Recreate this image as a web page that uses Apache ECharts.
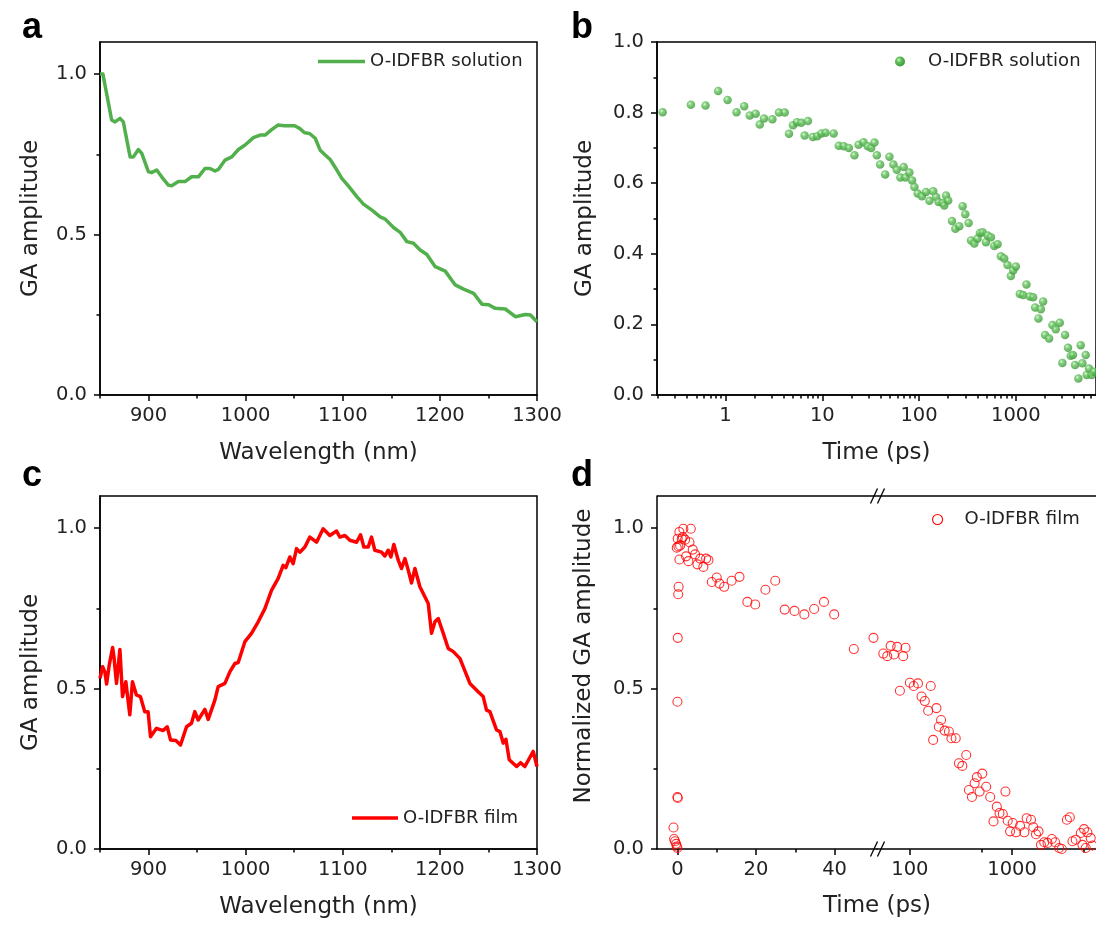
<!DOCTYPE html>
<html><head><meta charset="utf-8">
<script src="https://cdn.jsdelivr.net/npm/echarts@6/dist/echarts.min.js"></script>
<style>html,body{margin:0;padding:0;background:#fff}#c{width:1096px;height:927px}</style>
</head><body><div id="c"></div>
<script>
// ---------- data ----------
const wavelengthSolution = [850,853,862,865.5,870.6,874,881,884.4,889.5,893,899.8,903,908.4,913.5,920.4,923.8,930.7,937.5,944.4,951.3,958.2,963.3,968.5,971.9,978.8,985.7,992.5,999.4,1008,1014.9,1020,1026.4,1033.2,1040,1050.4,1055.5,1060.7,1065.8,1071.6,1076.7,1081.9,1087,1093.9,1099,1105.9,1114.5,1121.3,1130,1138.5,1143.7,1152.2,1159.1,1166,1172.8,1179.7,1186.6,1195.2,1205.5,1215.8,1224.4,1234.7,1243.3,1250.2,1257,1267.4,1277.7,1288,1293.2,1300];
const ampSolution = [1.0,1.0,0.857,0.851,0.862,0.851,0.742,0.742,0.765,0.753,0.696,0.693,0.701,0.680,0.654,0.652,0.665,0.665,0.680,0.680,0.706,0.706,0.698,0.703,0.732,0.742,0.765,0.779,0.802,0.810,0.810,0.826,0.841,0.839,0.839,0.831,0.817,0.815,0.800,0.763,0.748,0.734,0.701,0.675,0.651,0.618,0.595,0.576,0.555,0.548,0.522,0.507,0.478,0.473,0.452,0.438,0.400,0.386,0.343,0.330,0.317,0.283,0.281,0.270,0.268,0.244,0.251,0.249,0.228];

const wavelengthFilm = [850,852.7,855,856.8,859.5,863,864.3,867,870.5,873.2,876.6,880.7,883.4,887.5,891.6,896.1,899.5,902,908.2,915,919.2,922.6,928.1,932.9,939.1,944.2,947.6,951.1,958,961.4,968.3,971.7,978.6,983.7,988.9,992.3,999.2,1006,1012.9,1019.8,1026.6,1033.5,1038.6,1041.4,1045.5,1048.9,1052.4,1055.8,1061,1066.1,1073,1079.8,1086.7,1093.6,1097,1102.2,1107.3,1114.2,1118.3,1121.7,1126.2,1129.6,1133,1139.9,1143.3,1146.8,1149.5,1152.6,1157.1,1160.5,1164,1167.4,1170.8,1174.3,1179.4,1188,1191.4,1194.9,1198.3,1203.5,1208.6,1213.8,1220.6,1230.9,1239.4,1244.6,1248,1251.5,1258.3,1261.8,1265.2,1268,1271.4,1279,1283.1,1287.5,1296.1,1300];
const ampFilm = [0.532,0.568,0.552,0.514,0.573,0.628,0.600,0.516,0.622,0.475,0.521,0.418,0.521,0.480,0.475,0.428,0.428,0.350,0.376,0.369,0.381,0.340,0.338,0.324,0.381,0.392,0.428,0.402,0.435,0.404,0.464,0.506,0.516,0.552,0.578,0.581,0.646,0.672,0.708,0.749,0.806,0.843,0.884,0.877,0.910,0.889,0.936,0.925,0.941,0.972,0.956,0.998,0.977,0.991,0.972,0.977,0.962,0.956,0.979,0.941,0.941,0.972,0.931,0.925,0.913,0.931,0.910,0.949,0.900,0.874,0.905,0.869,0.829,0.874,0.817,0.765,0.672,0.708,0.718,0.672,0.625,0.615,0.594,0.516,0.490,0.475,0.433,0.428,0.371,0.366,0.330,0.342,0.278,0.257,0.269,0.257,0.304,0.257];

const timeSolution = [0.224,0.439,0.622,0.839,1.05,1.30,1.56,1.78,2.05,2.26,2.50,3.05,3.57,4.09,4.53,4.98,5.48,6.07,6.57,7.11,8.00,8.87,9.77,10.8,13.1,14.8,16.7,18.8,21.5,23.7,26.7,29.5,32.0,34.6,36.6,39.6,44.6,49.4,54.3,58.8,64.1,69.4,72.2,79.4,84.7,89.5,96.8,107,118,128,140,150,159,175,182,190,200,219,237,260,282,300,325,344,372,402,425,453,491,511,552,598,647,700,758,820,888,938,1000,1099,1189,1287,1393,1507,1581,1711,1811,1913,2006,2205,2386,2583,2842,3025,3222,3459,3687,3896,4089,4422,4679,4865,5267,5398,5702,6077,6412];
const kineticSolution = [0.801,0.822,0.820,0.861,0.836,0.801,0.818,0.792,0.797,0.766,0.783,0.781,0.800,0.800,0.740,0.764,0.773,0.771,0.735,0.776,0.731,0.733,0.741,0.743,0.741,0.706,0.705,0.700,0.679,0.709,0.716,0.705,0.700,0.715,0.679,0.653,0.625,0.675,0.653,0.638,0.616,0.646,0.616,0.630,0.608,0.589,0.571,0.563,0.575,0.550,0.577,0.561,0.547,0.544,0.537,0.565,0.551,0.493,0.471,0.478,0.535,0.512,0.487,0.438,0.429,0.443,0.459,0.461,0.433,0.452,0.447,0.422,0.427,0.393,0.387,0.368,0.337,0.353,0.364,0.286,0.283,0.313,0.279,0.277,0.248,0.217,0.243,0.265,0.170,0.160,0.198,0.186,0.205,0.091,0.170,0.134,0.111,0.113,0.085,0.047,0.141,0.090,0.113,0.057,0.075,0.057,0.066];

const timeFilm = [-1.0,-0.85,-0.6,-0.34,-0.17,0,0,0.08,0,0.08,0.2,0.3,0.5,-0.17,0.25,0.68,0.08,0.5,1.1,1.5,1.36,1.95,2.2,2.8,3.06,3.4,3.9,4.5,5.1,5.8,6.6,7.3,7.9,8.75,10.0,10.7,11.9,13.8,15.8,17.8,19.8,22.4,24.9,27.3,29.8,32.3,34.8,37.3,39.9,44.9,49.9,
  55.0,60.1,64.9,69.9,75.2,79.9,86.1,90.8,100,109,120,130,140,151,160,169,182,192,202,219,241,255,281,302,326,356,378,405,430,452,481,511,558,611,658,709,753,811,861,906,956,1014,1094,1197,1318,1388,1531,1611,1713,1815,1916,2063,2222,2450,2640,2886,3066,3433,3672,3894,4200,4695,4872,5056,5250,5450,5875,6100];
const kineticFilm = [0.067,0.031,0.024,0.016,0.008,0.003,0.162,0.159,0.459,0.658,0.794,0.817,0.902,0.939,0.943,0.946,0.967,0.988,0.967,0.998,0.972,0.964,0.912,0.897,0.956,0.998,0.933,0.918,0.887,0.905,0.879,0.905,0.900,0.832,0.846,0.827,0.817,0.836,0.848,0.770,0.762,0.808,0.836,0.746,0.742,0.731,0.748,0.770,0.731,0.623,0.658,
  0.609,0.601,0.633,0.606,0.630,0.493,0.601,0.627,0.518,0.508,0.516,0.475,0.461,0.431,0.508,0.340,0.439,0.381,0.402,0.369,0.366,0.345,0.345,0.267,0.259,0.293,0.184,0.162,0.205,0.224,0.179,0.235,0.194,0.162,0.086,0.132,0.112,0.109,0.179,0.088,0.055,0.081,0.052,0.072,0.052,0.096,0.091,0.068,0.046,0.055,0.013,0.021,0.019,0.031,0.021,0.003,0.000,0.091,0.099,0.024,0.029,0.050,0.013,0.062,0.003,0.052,0.034,0.011];

// tick labels
const wavelengthTicks = [900,1000,1100,1200,1300];
const wavelengthMinorTicks = [850,950,1050,1150,1250];
const ampTicks = [0,0.5,1.0];
const ampMinorTicks = [0.25,0.75];
const kinTicks = [0,0.2,0.4,0.6,0.8,1.0];
const kinMinorTicks = [0.1,0.3,0.5,0.7,0.9];
const logTimeTicks = [1,10,100,1000];
const linTimeTicks = [0,20,40];
const linTimeMinorTicks = [10,30];
const brokenLogTicks = [100,1000];
const brokenLogMinorTicks = [500,5000];
const timeBreak = 50.8;

const legendSolution = 'O-IDFBR solution';
const legendFilm = 'O-IDFBR film';

// ---------- styles ----------
const FONT = "'DejaVu Sans', 'Liberation Sans', Arial, sans-serif";
const LETTER_FONT = "'Liberation Sans', Arial, sans-serif";
const GREEN = '#52b04c';
const RED = '#ff0000';
const bMin = 0.196, bMax = 6730;
const dLogMin = 47.7, dLogMax = 6620;

const logMinor = [];
[0.1,1,10,100,1000].forEach(d => { for (let m = 2; m <= 9; m++) { const v = +(m*d).toPrecision(3); if (v > bMin && v < bMax) logMinor.push(v); } });

const gridDefs = [
  {left:100, top:42, width:437, height:353, show:true, borderColor:'#000', borderWidth:1.5},
  {left:657, top:42, width:441, height:353, show:true, borderColor:'#000', borderWidth:1.5},
  {left:100, top:496, width:437, height:353, show:true, borderColor:'#000', borderWidth:1.5},
  {left:657, top:496, width:220, height:353, show:false},
  {left:877, top:496, width:221, height:353, show:false}
];

function axis(o) {
  const base = {
    gridIndex: o.grid, type: o.type || 'value', min: o.min, max: o.max,
    position: o.position,
    axisLine: {show: o.line !== false, onZero:false, lineStyle:{color:'#000', width:1.5}},
    axisTick: {show:true, inside:false, length: o.tickLen || 6, lineStyle:{color:'#000', width:1.5}, customValues: o.ticks},
    axisLabel: {show: !!o.labels, customValues: o.labels, fontSize:19.5, color:'#222', fontFamily:FONT, margin: o.margin || 11,
                formatter: o.fmt},
    splitLine:{show:false},
    name: o.name || '', nameLocation:'middle', nameGap: o.nameGap || 0,
    nameTextStyle:{fontSize:23, color:'#222', fontFamily:FONT}
  };
  if (base.type === 'log') base.logBase = 10;
  if (o.hidden) base.show = false;
  return base;
}
const fmt1 = v => Number(v).toFixed(1);
const fmtInt = v => String(Math.round(v));

const xAxes = [
  axis({grid:0, min:850, max:1300, position:'bottom', ticks:wavelengthTicks, labels:wavelengthTicks, name:'Wavelength (nm)', nameGap:47, fmt:fmtInt}),
  axis({grid:0, min:850, max:1300, position:'bottom', ticks:wavelengthMinorTicks, line:false, tickLen:3.5}),
  axis({grid:1, type:'log', min:bMin, max:bMax, position:'bottom', ticks:logTimeTicks, labels:logTimeTicks, name:'Time (ps)', nameGap:47, fmt:fmtInt}),
  axis({grid:1, type:'log', min:bMin, max:bMax, position:'bottom', ticks:logMinor, line:false, tickLen:3.5}),
  axis({grid:2, min:850, max:1300, position:'bottom', ticks:wavelengthTicks, labels:wavelengthTicks, name:'Wavelength (nm)', nameGap:47, fmt:fmtInt}),
  axis({grid:2, min:850, max:1300, position:'bottom', ticks:wavelengthMinorTicks, line:false, tickLen:3.5}),
  axis({grid:3, min:-5.2, max:timeBreak, position:'bottom', ticks:linTimeTicks, labels:linTimeTicks, fmt:fmtInt}),
  axis({grid:3, min:-5.2, max:timeBreak, position:'bottom', ticks:linTimeMinorTicks, line:false, tickLen:3.5}),
  axis({grid:4, type:'log', min:dLogMin, max:dLogMax, position:'bottom', ticks:brokenLogTicks, labels:brokenLogTicks, fmt:fmtInt}),
  axis({grid:4, type:'log', min:dLogMin, max:dLogMax, position:'bottom', ticks:brokenLogMinorTicks, line:false, tickLen:3.5})
];
const yAxes = [
  axis({grid:0, min:0, max:1.1, position:'left', ticks:ampTicks, labels:ampTicks, fmt:fmt1, margin:13, name:'GA amplitude', nameGap:57}),
  axis({grid:0, min:0, max:1.1, position:'left', ticks:ampMinorTicks, line:false, tickLen:3.5}),
  axis({grid:1, min:0, max:1.0, position:'left', ticks:kinTicks, labels:kinTicks, fmt:fmt1, margin:13, name:'GA amplitude', nameGap:60}),
  axis({grid:1, min:0, max:1.0, position:'left', ticks:kinMinorTicks, line:false, tickLen:3.5}),
  axis({grid:2, min:0, max:1.1, position:'left', ticks:ampTicks, labels:ampTicks, fmt:fmt1, margin:13, name:'GA amplitude', nameGap:57}),
  axis({grid:2, min:0, max:1.1, position:'left', ticks:ampMinorTicks, line:false, tickLen:3.5}),
  axis({grid:3, min:0, max:1.1, position:'left', ticks:ampTicks, labels:ampTicks, fmt:fmt1, margin:13}),
  axis({grid:3, min:0, max:1.1, position:'left', ticks:ampMinorTicks, line:false, tickLen:3.5}),
  axis({grid:4, min:0, max:1.1, position:'left', hidden:true})
];

const sphere = {type:'radial', x:0.38, y:0.35, r:0.7, colorStops:[
  {offset:0, color:'#d4f5cf'}, {offset:0.35, color:'#62c25c'}, {offset:1, color:'#3a9436'}]};

const filmLin = [], filmLog = [];
timeFilm.forEach((t, i) => { (t <= timeBreak ? filmLin : filmLog).push([t, kineticFilm[i]]); });

const series = [
  {name:legendSolution, type:'line', xAxisIndex:0, yAxisIndex:0, symbol:'none', showSymbol:false,
   data: wavelengthSolution.map((w,i)=>[w, ampSolution[i]]),
   lineStyle:{color:GREEN, width:3.5, join:'round'}, itemStyle:{color:GREEN}},
  {name:legendSolution, type:'scatter', xAxisIndex:2, yAxisIndex:2, symbol:'circle', symbolSize:8.5,
   data: timeSolution.map((t,i)=>[t, kineticSolution[i]]),
   itemStyle:{color:sphere}},
  {name:legendFilm, type:'line', xAxisIndex:4, yAxisIndex:4, symbol:'none', showSymbol:false,
   data: wavelengthFilm.map((w,i)=>[w, ampFilm[i]]),
   lineStyle:{color:RED, width:3.5, join:'round'}, itemStyle:{color:RED}},
  {name:legendFilm, type:'scatter', xAxisIndex:6, yAxisIndex:6, symbol:'circle', symbolSize:9, clip:false,
   data: filmLin, itemStyle:{color:'rgba(255,255,255,0)', borderColor:RED, borderWidth:1.1}},
  {name:legendFilm, type:'scatter', xAxisIndex:8, yAxisIndex:8, symbol:'circle', symbolSize:9, clip:false,
   data: filmLog, itemStyle:{color:'rgba(255,255,255,0)', borderColor:RED, borderWidth:1.1}}
];

const legendText = {fontSize:18, color:'#222', fontFamily:FONT};
const legends = [
  {data:[{name:legendSolution, icon:'rect', itemStyle:{color:GREEN, borderWidth:0}}], left:318, top:52.5, itemWidth:47, itemHeight:3.5, padding:0, selectedMode:false, textStyle:legendText},
  {data:[{name:legendSolution, icon:'circle', itemStyle:{color:sphere, borderWidth:0}}], left:895, top:52.5, itemWidth:10, itemHeight:10, padding:0, selectedMode:false,
   textStyle:Object.assign({padding:[0,0,0,18]}, legendText)},
  {data:[{name:legendFilm, icon:'rect', itemStyle:{color:RED, borderWidth:0}}], left:352, top:809, itemWidth:46, itemHeight:3.5, padding:0, selectedMode:false, textStyle:legendText},
  {data:[{name:legendFilm, icon:'circle', itemStyle:{color:'#fff', borderColor:RED, borderWidth:1.1}}], left:932, top:510.5, itemWidth:10, itemHeight:10, padding:0, selectedMode:false,
   textStyle:Object.assign({padding:[0,0,0,17]}, legendText)}
];

function letter(t, x, y) {
  return {type:'text', x:x, y:y, z:100, style:{text:t, fontSize:36, fontWeight:'bold', fontFamily:LETTER_FONT, fill:'#000', align:'left', verticalAlign:'middle'}};
}
function breakMark(xc, yc) {
  return {type:'group', z:100, children:[
    {type:'polygon', shape:{points:[[xc-6.5,yc+7.5],[xc+0.5,yc-7.5],[xc+6.5,yc-7.5],[xc-0.5,yc+7.5]]}, style:{fill:'#fff'}},
    {type:'line', shape:{x1:xc-7,y1:yc+7.5,x2:xc,y2:yc-7.5}, style:{stroke:'#000', lineWidth:1.3}},
    {type:'line', shape:{x1:xc,y1:yc+7.5,x2:xc+7,y2:yc-7.5}, style:{stroke:'#000', lineWidth:1.3}}
  ]};
}
const graphics = [
  letter('a', 22, 28), letter('b', 571, 28), letter('c', 22, 476), letter('d', 571, 476),
  {type:'line', z:99, shape:{x1:657, y1:496, x2:1100, y2:496}, style:{stroke:'#000', lineWidth:1.5}},
  breakMark(877.5, 496), breakMark(877.5, 849),
  {type:'text', x:877, y:906, z:100, style:{text:'Time (ps)', fontSize:23, fontFamily:FONT, fill:'#222', align:'center', verticalAlign:'middle'}},
  {type:'text', x:584, y:656, z:100, rotation:Math.PI/2, style:{text:'Normalized GA amplitude', fontSize:23, fontFamily:FONT, fill:'#222', align:'center', verticalAlign:'middle'}}
];

const chart = echarts.init(document.getElementById('c'), null, {renderer:'canvas'});
chart.setOption({
  animation:false, backgroundColor:'#fff',
  grid: gridDefs, xAxis: xAxes, yAxis: yAxes, series: series, legend: legends, graphic: graphics
});
</script></body></html>
